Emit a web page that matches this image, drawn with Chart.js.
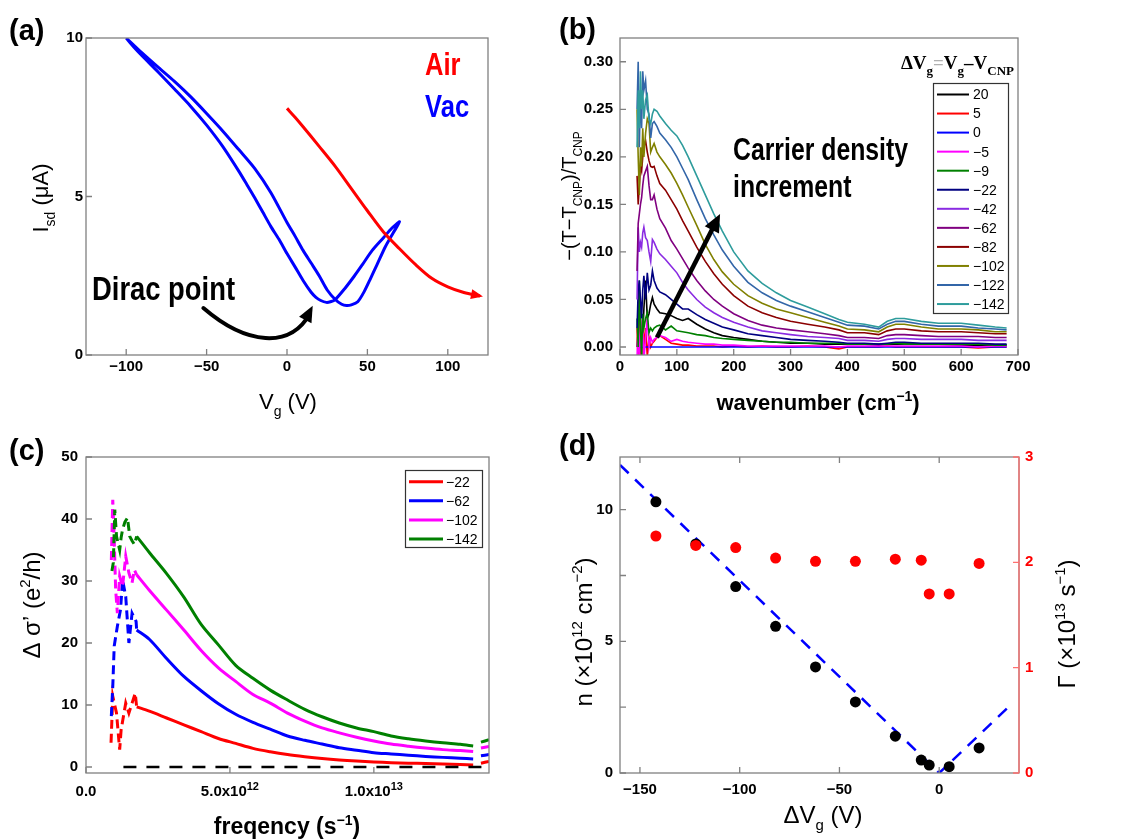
<!DOCTYPE html>
<html><head><meta charset="utf-8">
<script src="https://cdn.jsdelivr.net/npm/chart.js@4.4.1/dist/chart.umd.min.js"></script>
<style>
html,body{margin:0;padding:0;background:#fff}
#wrap{position:relative;width:1129px;height:840px;overflow:hidden;background:#fff}
canvas{position:absolute}
</style></head><body>
<div id="wrap">
<canvas id="cA" width="560" height="420" style="left:0;top:0"></canvas>
<canvas id="cB" width="569" height="420" style="left:560px;top:0"></canvas>
<canvas id="cC" width="560" height="420" style="left:0;top:420px"></canvas>
<canvas id="cD" width="569" height="420" style="left:560px;top:420px"></canvas>
</div>
<script>
// ---------- (a) transfer curves ----------
const vacVg = [-100,-90,-80,-70,-60,-50,-40,-30,-20,-10,0,5,10,15,20,25,30,34,37,40,44,48,52,56,61,66,70,65,60,53,47,42,36,30,27,24.5,21,18,15,10,5,0,-5,-10,-15,-20,-25,-30,-40,-50,-60,-70,-80,-90,-95,-100];
const vacIsd = [10,9.52,9.07,8.63,8.15,7.62,7.07,6.48,5.88,5.12,4.18,3.75,3.3,2.9,2.5,2.05,1.75,1.6,1.56,1.58,1.68,2.0,2.42,2.85,3.4,3.85,4.2,3.99,3.7,3.3,2.86,2.5,2.1,1.75,1.68,1.66,1.72,1.82,1.98,2.35,2.78,3.2,3.65,4.05,4.5,4.95,5.38,5.8,6.58,7.25,7.85,8.39,8.92,9.43,9.7,10];
const airVg = [0,5,10,20,30,40,50,60,70,80,90,100,110,120];
const airIsd = [7.78,7.5,7.2,6.58,5.95,5.25,4.55,3.88,3.35,2.85,2.42,2.15,1.97,1.86];
const aXTicks = [-100,-50,0,50,100];
const aYTicks = [0,5,10];
const diracArrowV = [-52,-25,2,16];
const diracArrowI = [1.48,0.3,0.2,1.55];

// ---------- (b) spectra ----------
const bWavenumber = [30,32,34,36,38,40,42,45,48,51,54,57,60,65,70,80,90,100,110,120,135,150,165,180,200,225,250,275,300,330,360,385,400,430,455,470,485,500,530,560,600,630,660,680];
const bP20  = [0,0.02,0.01,0.03,0,0.01,0.04,0.07,0.03,0.035,0.045,0.052,0.045,0.04,0.036,0.035,0.033,0.03,0.028,0.03,0.024,0.019,0.015,0.012,0.01,0.008,0.006,0.005,0.004,0.004,0.003,0.003,0.003,0.003,0.002,0.003,0.003,0.003,0.003,0.003,0.002,0.002,0.002,0.002];
const bP5   = [0.02,-0.02,0.06,0,-0.02,0.03,0,0.02,-0.01,0.01,0,0.004,0.006,0.01,0.012,0.008,0.004,0.003,0.002,0.002,0.001,0.001,0.001,0,0.001,0,0.001,0,0,0.001,0,-0.002,0,0,0,0.001,0,0,0,0,0,-0.001,0,0];
const bZero = [0,0,0,0,0,0,0,0,0,0,0,0,0,0,0,0,0,0,0,0,0,0,0,0,0,0,0,0,0,0,0,0,0,0,0,0,0,0,0,0,0,0,0,0];
const bM5   = [-0.01,0.02,-0.02,0.03,0,0.02,-0.015,0.01,0.03,0,0.01,0.005,0.008,0.01,0.012,0.01,0.006,0.008,0.006,0.005,0.004,0.003,0.003,0.002,0.002,0.001,0.001,0.001,0.001,0.001,0.001,0,0.001,0.001,0.001,0.001,0.001,0.001,0.001,0.001,0.001,0,0.001,0.001];
const bM9   = [0.03,0,0.07,0.02,-0.01,0.035,0.02,0.03,0.036,0.015,0.02,0.017,0.02,0.022,0.023,0.018,0.022,0.017,0.016,0.015,0.013,0.012,0.01,0.009,0.008,0.007,0.006,0.005,0.005,0.004,0.004,0.004,0.003,0.003,0.003,0.003,0.004,0.003,0.003,0.003,0.003,0.003,0.002,0.002];
const bM22  = [0.02,0.06,0.07,0.05,0.03,0.06,0.075,0.05,0.078,0.06,0.065,0.08,0.07,0.062,0.058,0.055,0.05,0.045,0.04,0.04,0.034,0.029,0.025,0.021,0.018,0.014,0.012,0.01,0.008,0.007,0.006,0.005,0.004,0.004,0.003,0.004,0.005,0.005,0.004,0.004,0.004,0.004,0.003,0.003];
const bM42  = [0.05,0.126,0.1,0.11,0.105,0.12,0.126,0.115,0.112,0.1,0.09,0.113,0.11,0.103,0.098,0.092,0.085,0.078,0.068,0.06,0.05,0.042,0.036,0.031,0.026,0.021,0.017,0.015,0.013,0.011,0.01,0.009,0.007,0.007,0.006,0.008,0.009,0.009,0.008,0.008,0.008,0.007,0.007,0.007];
const bM62  = [0.08,0.13,0.14,0.15,0.157,0.17,0.18,0.185,0.19,0.17,0.155,0.155,0.16,0.145,0.135,0.125,0.112,0.103,0.093,0.083,0.07,0.059,0.05,0.043,0.035,0.028,0.023,0.02,0.018,0.016,0.014,0.012,0.01,0.01,0.009,0.012,0.013,0.013,0.012,0.011,0.011,0.011,0.01,0.01];
const bM82  = [0.18,0.15,0.17,0.19,0.185,0.2,0.21,0.217,0.205,0.196,0.19,0.189,0.19,0.18,0.172,0.165,0.155,0.145,0.133,0.122,0.105,0.09,0.077,0.066,0.054,0.043,0.036,0.031,0.027,0.024,0.021,0.018,0.015,0.015,0.013,0.017,0.019,0.019,0.017,0.016,0.016,0.015,0.014,0.014];
const bM102 = [0.25,0.2,0.16,0.21,0.19,0.23,0.2,0.225,0.24,0.235,0.205,0.21,0.214,0.205,0.2,0.192,0.183,0.172,0.16,0.147,0.128,0.108,0.092,0.079,0.066,0.054,0.046,0.04,0.036,0.031,0.026,0.022,0.019,0.018,0.016,0.021,0.024,0.024,0.021,0.019,0.019,0.018,0.016,0.016];
const bM122 = [0.25,0.3,0.21,0.27,0.23,0.29,0.27,0.28,0.25,0.245,0.22,0.235,0.237,0.232,0.225,0.218,0.21,0.2,0.188,0.176,0.155,0.135,0.118,0.102,0.085,0.068,0.057,0.049,0.043,0.037,0.031,0.026,0.023,0.022,0.019,0.024,0.027,0.027,0.024,0.022,0.022,0.02,0.019,0.018];
const bM142 = [0.21,0.27,0.23,0.29,0.25,0.27,0.24,0.26,0.265,0.24,0.235,0.245,0.25,0.248,0.243,0.235,0.228,0.222,0.212,0.2,0.18,0.16,0.14,0.122,0.1,0.08,0.067,0.057,0.049,0.042,0.035,0.029,0.026,0.024,0.021,0.027,0.03,0.03,0.027,0.025,0.025,0.023,0.021,0.02];
const bLabels = ['20','5','0','−5','−9','−22','−42','−62','−82','−102','−122','−142'];
const bSeries = [bP20,bP5,bZero,bM5,bM9,bM22,bM42,bM62,bM82,bM102,bM122,bM142];
const bColors = ['#000000','#ff0000','#0000ff','#ff00ff','#008000','#000080','#8a2be2','#800080','#8b0000','#808000','#3366a8','#2e9c9c'];
const bXTicks = [0,100,200,300,400,500,600,700];
const bYTicks = [0,0.05,0.1,0.15,0.2,0.25,0.3];
const bArrowW = [65,176];
const bArrowV = [0.01,0.14];

// ---------- (c) conductivity ----------
const cFreqSolid = [1.76e12,2.2e12,2.8e12,3.4e12,4.0e12,4.6e12,5.2e12,5.8e12,6.4e12,7.0e12,7.6e12,8.2e12,8.8e12,9.4e12,10.0e12,10.6e12,11.2e12,11.8e12,12.4e12,13.0e12,13.45e12,13.6e12,13.72e12,14.0e12];
const cM142Solid = [37.2,34.6,31.2,27.4,23.0,19.7,16.4,14.3,12.4,10.8,9.3,8.1,7.1,6.3,5.7,5.0,4.55,4.2,3.9,3.65,3.4,null,4.0,4.4];
const cM102Solid = [31.0,28.5,25.3,22.1,18.8,16.0,13.8,11.7,10.3,8.7,7.4,6.3,5.5,4.8,4.2,3.7,3.35,3.05,2.8,2.65,2.5,null,3.05,3.3];
const cM62Solid  = [22.1,20.6,17.5,14.6,12.3,10.2,8.5,7.2,6.1,5.0,4.3,3.7,3.1,2.7,2.3,2.1,1.9,1.7,1.55,1.4,1.3,null,1.8,2.0];
const cM22Solid  = [9.7,9.0,7.9,6.8,5.7,4.6,3.8,3.0,2.45,2.0,1.65,1.35,1.12,0.95,0.82,0.7,0.62,0.55,0.47,0.4,0.33,null,0.6,0.9];
const cM142DashF = [0.9e12,0.95e12,1.0e12,1.06e12,1.12e12,1.17e12,1.22e12,1.27e12,1.35e12,1.44e12,1.52e12,1.6e12,1.68e12,1.76e12];
const cM142DashV = [31.6,33,41.5,37.2,36,35,37,38.3,39.5,40.2,37.2,36.5,35.9,37.2];
const cM102DashF = [0.88e12,0.93e12,0.98e12,1.03e12,1.09e12,1.17e12,1.27e12,1.38e12,1.49e12,1.6e12,1.68e12,1.76e12];
const cM102DashV = [33.4,43.1,36.7,28.6,24.8,30.8,29.1,34,31.3,29.7,31.8,31.0];
const cM62DashF  = [0.88e12,0.93e12,0.98e12,1.09e12,1.2e12,1.27e12,1.38e12,1.49e12,1.6e12,1.74e12,1.76e12];
const cM62DashV  = [8.2,13,19.5,22.7,25.4,30.2,27.5,20,24.8,23.5,22.1];
const cM22DashF  = [0.87e12,0.93e12,1.06e12,1.17e12,1.22e12,1.38e12,1.49e12,1.6e12,1.71e12,1.76e12];
const cM22DashV  = [3.9,11.4,8.7,2.8,6,10.3,8.7,10.3,11.9,9.7];
const cZeroF = [1.3e12,1.4e13];
const cZeroV = [0,0];
const cLabels = ['−22','−62','−102','−142'];
const cColors = ['#ff0000','#0000ff','#ff00ff','#008000'];
const cXTicks = [0,5e12,1e13];
const cXTickLabels = [['0.0',''],['5.0x10','12'],['1.0x10','13']];
const cYTicks = [0,10,20,30,40,50];

// ---------- (d) density & scattering ----------
const dDeltaVg = [-142,-122,-102,-82,-62,-42,-22,-9,-5,5,20];
const dDensity = [10.3,8.7,7.08,5.57,4.03,2.70,1.40,0.49,0.30,0.24,0.95];
const dGamma   = [2.25,2.16,2.14,2.04,2.01,2.01,2.03,2.02,1.70,1.70,1.99];
const dFitV = [-160,0,36];
const dFitN = [11.7,0,2.6];
const dXTicks = [-150,-100,-50,0];
const dYTicks = [0,5,10];
const dYMinor = [2.5,7.5];
const dY2Ticks = [0,1,2,3];

// ---------- helpers ----------
const FONT = "'Liberation Sans', Arial, Helvetica, sans-serif";
const SERIF = "'Liberation Serif', 'Times New Roman', serif";
const tickFont = {family: FONT, size: 15, weight: 'bold'};
const minus = v => String(v).replace('-', '−');

function rich(ctx, parts, cx, cy, st) {
  const size = st.size, weight = st.weight || 'normal', fam = st.family || FONT;
  ctx.save(); ctx.translate(cx, cy); if (st.rot) ctx.rotate(st.rot);
  let total = 0;
  const items = parts.map(p => {
    const k = p.k || 'n';
    const s = k === 'n' ? size : Math.round(size * (st.scriptScale || 0.62));
    const f = `${p.weight || weight} ${s}px ${fam}`;
    ctx.font = f; const w = ctx.measureText(p.t).width; total += w;
    return {t: p.t, f, w, dy: k === 'sub' ? size * 0.3 : k === 'sup' ? -size * 0.42 : 0, color: p.color || st.color || '#000'};
  });
  let x = st.align === 'left' ? 0 : st.align === 'right' ? -total : -total / 2;
  ctx.textBaseline = 'alphabetic';
  const by = size * 0.36;
  for (const it of items) { ctx.font = it.f; ctx.fillStyle = it.color; ctx.fillText(it.t, x, by + it.dy); x += it.w; }
  ctx.restore();
}
function narrowText(ctx, text, x, y, size, sx, color) {
  ctx.save(); ctx.translate(x, y); ctx.scale(sx, 1);
  ctx.font = `bold ${size}px ${FONT}`; ctx.fillStyle = color; ctx.textBaseline = 'alphabetic';
  ctx.fillText(text, 0, 0); ctx.restore();
}
function frame(ctx, ca, color) {
  ctx.save(); ctx.strokeStyle = color || '#808080'; ctx.lineWidth = 1.3;
  ctx.strokeRect(ca.left, ca.top, ca.right - ca.left, ca.bottom - ca.top); ctx.restore();
}
function ticksIn(chart, id, vals, side, len, color) {
  const ctx = chart.ctx, sc = chart.scales[id], ca = chart.chartArea;
  ctx.save(); ctx.strokeStyle = color || '#808080'; ctx.lineWidth = 1.3; ctx.beginPath();
  for (const v of vals) {
    const p = sc.getPixelForValue(v);
    if (side === 'bottom') { ctx.moveTo(p, ca.bottom); ctx.lineTo(p, ca.bottom - len); }
    else if (side === 'top') { ctx.moveTo(p, ca.top); ctx.lineTo(p, ca.top + len); }
    else if (side === 'left') { ctx.moveTo(ca.left, p); ctx.lineTo(ca.left + len, p); }
    else { ctx.moveTo(ca.right, p); ctx.lineTo(ca.right - len, p); }
  }
  ctx.stroke(); ctx.restore();
}
function arrowHead(ctx, x1, y1, x2, y2, len, half, color) {
  const a = Math.atan2(y2 - y1, x2 - x1);
  ctx.save(); ctx.fillStyle = color; ctx.beginPath();
  ctx.moveTo(x2, y2);
  ctx.lineTo(x2 - len * Math.cos(a) + half * Math.sin(a), y2 - len * Math.sin(a) - half * Math.cos(a));
  ctx.lineTo(x2 - len * Math.cos(a) - half * Math.sin(a), y2 - len * Math.sin(a) + half * Math.cos(a));
  ctx.closePath(); ctx.fill(); ctx.restore();
}
function panelLabel(ctx, t, x, y) {
  ctx.save(); ctx.font = `bold 29px ${FONT}`; ctx.fillStyle = '#000'; ctx.textBaseline = 'alphabetic';
  ctx.fillText(t, x, y); ctx.restore();
}
function linScale(min, max, ticksArr, extra) {
  return Object.assign({
    type: 'linear', min, max,
    grid: {display: false, drawTicks: false}, border: {display: false},
    afterBuildTicks: s => { s.ticks = ticksArr.map(v => ({value: v})); },
    ticks: {autoSkip: false, maxRotation: 0, minRotation: 0, color: '#000', font: tickFont, callback: v => minus(v)}
  }, extra || {});
}
const xy = (xs, ys) => xs.map((v, i) => ({x: v, y: ys[i]}));
const baseOpts = {responsive: false, animation: false, events: [], devicePixelRatio: 1,
  plugins: {legend: {display: false}, tooltip: {enabled: false}}};

// ---------- chart (a) ----------
new Chart(document.getElementById('cA'), {
  type: 'scatter',
  data: {datasets: [
    {data: xy(airVg, airIsd), showLine: true, borderColor: '#ff0000', borderWidth: 3, pointRadius: 0, tension: 0.3},
    {data: xy(vacVg, vacIsd), showLine: true, borderColor: '#0000ff', borderWidth: 3, pointRadius: 0, tension: 0.25}
  ]},
  options: Object.assign({}, baseOpts, {
    layout: {padding: {left: 0, top: 38, right: 72, bottom: 0}},
    scales: {
      x: linScale(-125, 125, aXTicks, {afterFit: s => { s.height = 65; }}),
      y: linScale(0, 10, aYTicks, {afterFit: s => { s.width = 86; }})
    }
  }),
  plugins: [{id: 'decoA', afterDraw(chart) {
    const ctx = chart.ctx, ca = chart.chartArea, X = chart.scales.x, Y = chart.scales.y;
    frame(ctx, ca);
    ticksIn(chart, 'x', aXTicks, 'bottom', 6);
    ticksIn(chart, 'y', aYTicks, 'left', 6);
    const n = airVg.length;
    arrowHead(ctx, X.getPixelForValue(airVg[n - 2]), Y.getPixelForValue(airIsd[n - 2]),
      X.getPixelForValue(airVg[n - 1]) + 3, Y.getPixelForValue(airIsd[n - 1]) + 0.5, 12, 5, '#ff0000');
    const px = diracArrowV.map(v => X.getPixelForValue(v)), py = diracArrowI.map(v => Y.getPixelForValue(v));
    ctx.save(); ctx.strokeStyle = '#000'; ctx.lineWidth = 4; ctx.lineCap = 'round'; ctx.beginPath();
    ctx.moveTo(px[0], py[0]); ctx.bezierCurveTo(px[1], py[1], px[2], py[2], px[3] - 3, py[3] + 8); ctx.stroke(); ctx.restore();
    arrowHead(ctx, px[2], py[2], px[3], py[3], 16, 7, '#000');
    narrowText(ctx, 'Dirac point', 92, 300, 33, 0.83, '#000');
    narrowText(ctx, 'Air', 425, 75, 32, 0.8, '#ff0000');
    narrowText(ctx, 'Vac', 425, 117, 32, 0.8, '#0000ff');
    rich(ctx, [{t: 'I'}, {t: 'sd', k: 'sub'}, {t: ' (μA)'}], 40, 198, {size: 22, rot: -Math.PI / 2});
    rich(ctx, [{t: 'V'}, {t: 'g', k: 'sub'}, {t: ' (V)'}], 288, 401, {size: 22});
    panelLabel(ctx, '(a)', 9, 40);
  }}]
});

// ---------- chart (b) ----------
new Chart(document.getElementById('cB'), {
  type: 'scatter',
  data: {datasets: bSeries.map((s, i) => ({data: xy(bWavenumber, s), showLine: true, borderColor: bColors[i], borderWidth: 1.6, pointRadius: 0, tension: 0})).reverse()},
  options: Object.assign({}, baseOpts, {
    layout: {padding: {left: 0, top: 38, right: 111, bottom: 0}},
    scales: {
      x: linScale(0, 700, bXTicks, {afterFit: s => { s.height = 65; }}),
      y: linScale(-0.0084, 0.325, bYTicks, {afterFit: s => { s.width = 60; },
        ticks: {autoSkip: false, color: '#000', font: tickFont, padding: 7, callback: v => v.toFixed(2)}})
    }
  }),
  plugins: [{id: 'decoB', afterDraw(chart) {
    const ctx = chart.ctx, ca = chart.chartArea, X = chart.scales.x, Y = chart.scales.y;
    frame(ctx, ca);
    ticksIn(chart, 'x', bXTicks, 'bottom', 6);
    ticksIn(chart, 'y', bYTicks, 'left', 6);
    const x1 = X.getPixelForValue(bArrowW[0]), y1 = Y.getPixelForValue(bArrowV[0]);
    const x2 = X.getPixelForValue(bArrowW[1]), y2 = Y.getPixelForValue(bArrowV[1]);
    const a = Math.atan2(y2 - y1, x2 - x1);
    ctx.save(); ctx.strokeStyle = '#000'; ctx.lineWidth = 4.5; ctx.beginPath(); ctx.moveTo(x1, y1);
    ctx.lineTo(x2 - 14 * Math.cos(a), y2 - 14 * Math.sin(a)); ctx.stroke(); ctx.restore();
    arrowHead(ctx, x1, y1, x2, y2, 18, 8, '#000');
    narrowText(ctx, 'Carrier density', 173, 160, 31, 0.8, '#000');
    narrowText(ctx, 'increment', 173, 197, 31, 0.8, '#000');
    ctx.save(); ctx.strokeStyle = '#333'; ctx.lineWidth = 1.2; ctx.strokeRect(373.5, 83.5, 75, 230); ctx.restore();
    bLabels.forEach((lab, i) => {
      const yy = 94.5 + i * 19.05;
      ctx.save(); ctx.strokeStyle = bColors[i]; ctx.lineWidth = 2; ctx.beginPath(); ctx.moveTo(377, yy); ctx.lineTo(409, yy); ctx.stroke();
      ctx.font = `14px ${FONT}`; ctx.fillStyle = '#000'; ctx.textBaseline = 'middle'; ctx.fillText(lab, 413, yy + 1); ctx.restore();
    });
    rich(ctx, [{t: 'ΔV'}, {t: 'g', k: 'sub'}, {t: '=', color: '#b0b0b0'}, {t: 'V'}, {t: 'g', k: 'sub'}, {t: '–'}, {t: 'V'}, {t: 'CNP', k: 'sub'}],
      454, 62, {size: 19, weight: 'bold', family: SERIF, align: 'right', scriptScale: 0.66});
    rich(ctx, [{t: '−(T−T'}, {t: 'CNP', k: 'sub'}, {t: ')/T'}, {t: 'CNP', k: 'sub'}], 9, 196, {size: 20, rot: -Math.PI / 2});
    rich(ctx, [{t: 'wavenumber (cm'}, {t: '−1', k: 'sup'}, {t: ')'}], 258, 402, {size: 22, weight: 'bold'});
    panelLabel(ctx, '(b)', -1, 39);
  }}]
});

// ---------- chart (c) ----------
const cSolid = [cM22Solid, cM62Solid, cM102Solid, cM142Solid];
const cDashF = [cM22DashF, cM62DashF, cM102DashF, cM142DashF];
const cDashV = [cM22DashV, cM62DashV, cM102DashV, cM142DashV];
const cDatasets = [];
cSolid.forEach((s, i) => {
  cDatasets.push({data: xy(cFreqSolid, s), showLine: true, borderColor: cColors[i], borderWidth: 3, pointRadius: 0, tension: 0.3, spanGaps: false});
  cDatasets.push({data: xy(cDashF[i], cDashV[i]), showLine: true, borderColor: cColors[i], borderWidth: 3, pointRadius: 0, tension: 0, borderDash: [9, 5]});
});
cDatasets.push({data: xy(cZeroF, cZeroV), showLine: true, borderColor: '#000', borderWidth: 2.5, pointRadius: 0, borderDash: [13, 10]});
new Chart(document.getElementById('cC'), {
  type: 'scatter',
  data: {datasets: cDatasets.reverse()},
  options: Object.assign({}, baseOpts, {
    layout: {padding: {left: 0, top: 37, right: 71, bottom: 0}},
    scales: {
      x: linScale(0, 1.4e13, cXTicks, {afterFit: s => { s.height = 67; }, ticks: {display: false}}),
      y: linScale(-0.97, 50, cYTicks, {afterFit: s => { s.width = 86; }, ticks: {autoSkip: false, color: '#000', font: tickFont, padding: 8}})
    }
  }),
  plugins: [{id: 'decoC', afterDraw(chart) {
    const ctx = chart.ctx, ca = chart.chartArea, X = chart.scales.x;
    frame(ctx, ca);
    ticksIn(chart, 'x', cXTicks, 'bottom', 6);
    ticksIn(chart, 'y', cYTicks, 'left', 6);
    cXTicks.forEach((v, i) => {
      const [m, e] = cXTickLabels[i];
      const parts = e ? [{t: m}, {t: e, k: 'sup'}] : [{t: m}];
      rich(ctx, parts, X.getPixelForValue(v), 371, {size: 15, weight: 'bold', scriptScale: 0.7});
    });
    ctx.save(); ctx.strokeStyle = '#333'; ctx.lineWidth = 1.2; ctx.strokeRect(405.5, 50.5, 77, 77); ctx.restore();
    cLabels.forEach((lab, i) => {
      const yy = 61.7 + i * 19.1;
      ctx.save(); ctx.strokeStyle = cColors[i]; ctx.lineWidth = 3; ctx.beginPath(); ctx.moveTo(409, yy); ctx.lineTo(443, yy); ctx.stroke();
      ctx.font = `14px ${FONT}`; ctx.fillStyle = '#000'; ctx.textBaseline = 'middle'; ctx.fillText(lab, 446, yy + 1); ctx.restore();
    });
    rich(ctx, [{t: 'Δ σ’ (e'}, {t: '2', k: 'sup'}, {t: '/h)'}], 31, 185, {size: 24, rot: -Math.PI / 2});
    rich(ctx, [{t: 'freqency (s'}, {t: '−1', k: 'sup'}, {t: ')'}], 287, 406, {size: 23, weight: 'bold'});
    panelLabel(ctx, '(c)', 9, 40);
  }}]
});

// ---------- chart (d) ----------
new Chart(document.getElementById('cD'), {
  type: 'scatter',
  data: {datasets: [
    {data: xy(dDeltaVg, dGamma), yAxisID: 'y2', backgroundColor: '#ff0000', borderWidth: 0, pointRadius: 5.5},
    {data: xy(dDeltaVg, dDensity), yAxisID: 'y', backgroundColor: '#000000', borderWidth: 0, pointRadius: 5.5},
    {data: xy(dFitV, dFitN), yAxisID: 'y', showLine: true, borderColor: '#0000ff', borderWidth: 2.5, borderDash: [12, 9], pointRadius: 0}
  ]},
  options: Object.assign({}, baseOpts, {
    layout: {padding: {left: 0, top: 37, right: 0, bottom: 0}},
    scales: {
      x: linScale(-160, 40, dXTicks, {afterFit: s => { s.height = 67; }, ticks: {autoSkip: false, color: '#000', font: tickFont, padding: 8, callback: v => minus(v)}}),
      y: linScale(0, 12, dYTicks, {afterFit: s => { s.width = 60; }, ticks: {autoSkip: false, color: '#000', font: tickFont, padding: 7}}),
      y2: linScale(0, 3, dY2Ticks, {position: 'right', afterFit: s => { s.width = 110; }, ticks: {autoSkip: false, color: '#ff0000', font: tickFont, padding: 6}})
    }
  }),
  plugins: [{id: 'decoD', afterDraw(chart) {
    const ctx = chart.ctx, ca = chart.chartArea;
    frame(ctx, ca);
    ctx.save(); ctx.strokeStyle = '#ff7070'; ctx.lineWidth = 1.3; ctx.beginPath(); ctx.moveTo(ca.right, ca.top); ctx.lineTo(ca.right, ca.bottom); ctx.stroke(); ctx.restore();
    ticksIn(chart, 'x', dXTicks, 'bottom', 6);
    ticksIn(chart, 'x', dXTicks, 'top', 6);
    ticksIn(chart, 'y', dYTicks.concat(dYMinor), 'left', 6);
    ticksIn(chart, 'y2', dY2Ticks, 'right', 6, '#ff7070');
    rich(ctx, [{t: 'n (×10'}, {t: '12', k: 'sup'}, {t: ' cm'}, {t: '−2', k: 'sup'}, {t: ')'}], 23, 212, {size: 24, rot: -Math.PI / 2});
    rich(ctx, [{t: 'Γ (×10'}, {t: '13', k: 'sup'}, {t: ' s'}, {t: '−1', k: 'sup'}, {t: ')'}], 506, 204, {size: 24, rot: -Math.PI / 2});
    rich(ctx, [{t: 'ΔV'}, {t: 'g', k: 'sub'}, {t: ' (V)'}], 263, 394, {size: 24});
    panelLabel(ctx, '(d)', -1, 35);
  }}]
});
</script>
</body></html>
